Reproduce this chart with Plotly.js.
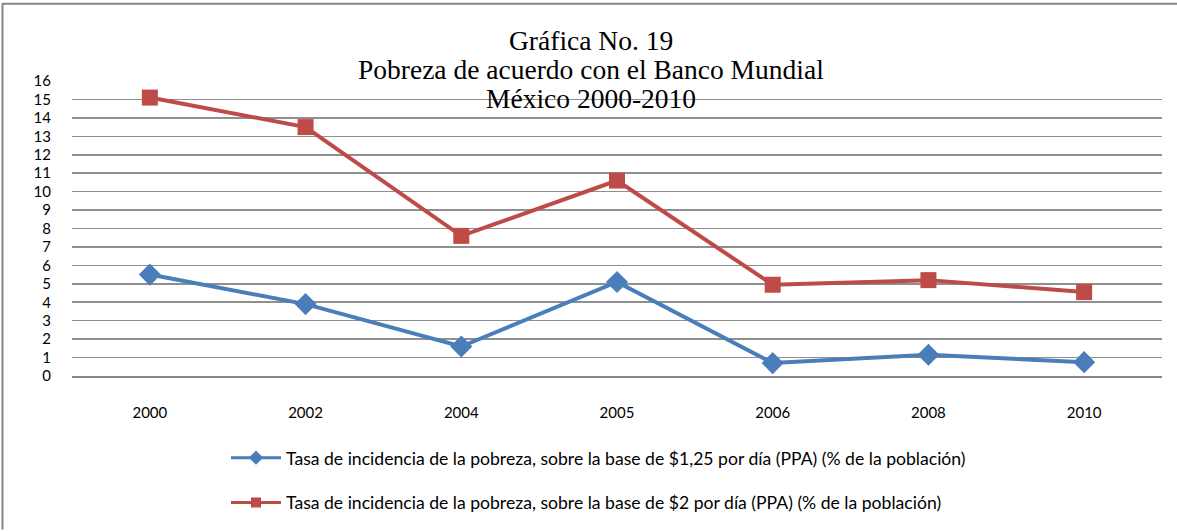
<!DOCTYPE html>
<html><head><meta charset="utf-8">
<script src="https://cdn.plot.ly/plotly-3.0.1.min.js"></script>
<style>html,body{margin:0;padding:0;background:#fff}#c{width:1177px;height:531px}</style>
</head><body><div id="c"></div>
<script>
const years = ['2000','2002','2004','2005','2006','2008','2010'];
const pobreza125 = [5.5, 3.9, 1.6, 5.1, 0.7, 1.15, 0.75];
const pobreza2 = [15.1, 13.5, 7.6, 10.6, 4.95, 5.2, 4.55];
const yTicks = [0,1,2,3,4,5,6,7,8,9,10,11,12,13,14,15,16];
const titleLines = ['Gráfica No. 19', 'Pobreza de acuerdo con el Banco Mundial', 'México 2000-2010'];
const name1 = 'Tasa de incidencia de la pobreza, sobre la base de $1,25 por día (PPA) (% de la población)';
const name2 = 'Tasa de incidencia de la pobreza, sobre la base de $2 por día (PPA) (% de la población)';

const blue = '#4a7ebb', red = '#be4b48';
const traces = [
  {x: years, y: pobreza125, name: name1, type: 'scatter', mode: 'lines+markers',
   line: {color: blue, width: 4}, marker: {symbol: 'diamond', size: 17, color: blue}, showlegend: false},
  {x: years, y: pobreza2, name: name2, type: 'scatter', mode: 'lines+markers',
   line: {color: red, width: 4}, marker: {symbol: 'square', size: 16, color: red}, showlegend: false},
  {x: [null], y: [null], name: name1, type: 'scatter', mode: 'lines+markers',
   line: {color: blue, width: 3}, marker: {symbol: 'diamond', size: 11, color: blue}, legendgroup: 'a'},
  {x: [null], y: [null], name: name2, type: 'scatter', mode: 'lines+markers',
   line: {color: red, width: 3}, marker: {symbol: 'square', size: 10, color: red}, legendgroup: 'b'}
];

const titleY = [40, 69, 99];
const annotations = titleLines.map((t, i) => ({
  text: t, xref: 'paper', yref: 'paper', x: (591-72)/1090, xanchor: 'center',
  y: (377 - titleY[i]) / 296, yanchor: 'middle', showarrow: false,
  font: {family: 'Liberation Serif, Times New Roman, serif', size: 27.5, color: '#000'}
}));

const layout = {
  width: 1177, height: 531,
  margin: {l: 72, r: 15, t: 81, b: 154},
  paper_bgcolor: '#fff', plot_bgcolor: 'rgba(0,0,0,0)',
  font: {family: 'Lato, Open Sans, sans-serif', size: 15, color: '#000'},
  annotations: annotations,
  xaxis: {type: 'category', categoryorder: 'array', categoryarray: years, range: [-0.5, 6.5],
          showgrid: false, showline: true, linecolor: '#868686', linewidth: 2, ticks: '', zeroline: false,
          ticklabelstandoff: 22, tickfont: {size: 15}, fixedrange: true},
  yaxis: {range: [0, 16], tickvals: yTicks, ticktext: yTicks.map(String), showgrid: true,
          gridcolor: '#8f8f8f', gridwidth: 1.6, zeroline: false, showline: false, ticks: '',
          ticklabelstandoff: 20, tickfont: {size: 15}, fixedrange: true},
  showlegend: true,
  legend: {orientation: 'v', x: (226-72)/1090, xanchor: 'left', y: -0.212, yanchor: 'top',
           font: {size: 17.6}, itemwidth: 50, tracegroupgap: 19, traceorder: 'grouped',
           bgcolor: 'rgba(0,0,0,0)'},
  shapes: [
    {type: 'line', xref: 'paper', yref: 'paper', x0: (2-72)/1090, x1: (1177-72)/1090,
     y0: (377-3.5)/296, y1: (377-3.5)/296, line: {color: '#868686', width: 2}},
    {type: 'line', xref: 'paper', yref: 'paper', x0: (2.5-72)/1090, x1: (2.5-72)/1090,
     y0: (377-3)/296, y1: (377-531)/296, line: {color: '#868686', width: 2}}
  ]
};
Plotly.newPlot('c', traces, layout, {displayModeBar: false, staticPlot: true});
</script></body></html>
